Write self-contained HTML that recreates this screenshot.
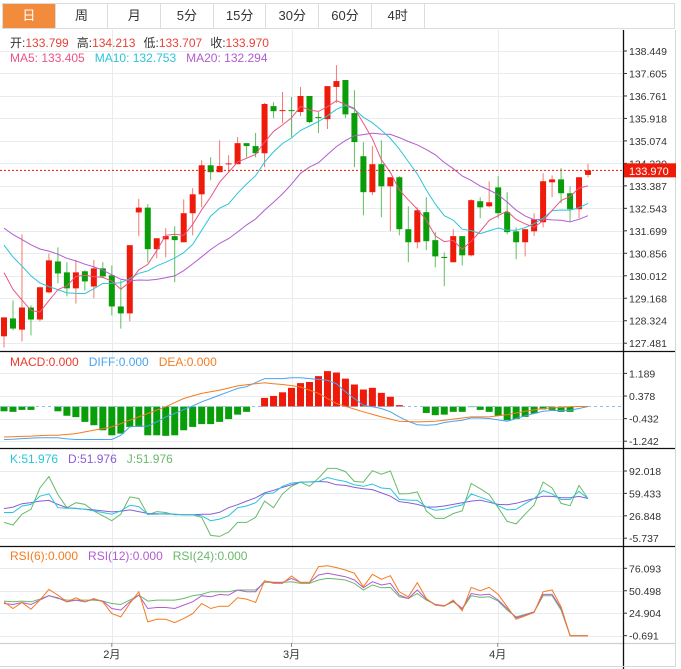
<!DOCTYPE html>
<html><head><meta charset="utf-8">
<style>
html,body{margin:0;padding:0;background:#fff;}
body{width:681px;height:669px;overflow:hidden;font-family:"Liberation Sans","Noto Sans CJK SC",sans-serif;}
#tabs{position:absolute;left:2px;top:3px;width:673px;height:26px;border:1px solid #dcdcdc;box-sizing:border-box;display:flex;}
.tab{width:52.7px;height:24px;line-height:24px;text-align:center;font-size:13px;color:#333;border-right:1px solid #dcdcdc;box-sizing:border-box;}
.tab.active{background:#f28b3c;color:#fff;}
svg{position:absolute;left:0;top:0;}
</style></head><body>
<div id="tabs">
<div class="tab active">日</div>
<div class="tab">周</div>
<div class="tab">月</div>
<div class="tab">5分</div>
<div class="tab">15分</div>
<div class="tab">30分</div>
<div class="tab">60分</div>
<div class="tab">4时</div>
</div>
<svg id="chart" width="681" height="669"></svg>
<script>
const opens=[127.74,128.41,127.99,128.82,128.37,129.39,130.55,130.14,129.54,130.18,129.61,130.29,130.03,128.86,128.6,132.39,132.57,131.01,131.38,131.5,131.27,132.36,133.07,134.16,133.9,134.2,134.2,134.99,134.88,134.61,136.38,136.22,136.23,136.16,136.76,135.97,135.89,137.1,137.36,136.12,134.5,133.15,134.2,133.37,133.71,131.76,131.27,132.4,131.35,130.72,130.52,131.5,130.78,132.81,132.62,133.33,132.4,131.68,131.27,131.68,132.02,133.52,133.63,133.11,132.51,133.799];
const highs=[128.45,129.09,131.57,128.9,129.6,130.85,131.08,130.52,130.6,130.22,130.6,130.52,130.4,129.84,131.16,132.9,132.7,131.42,131.8,131.87,132.88,133.3,134.35,134.46,135.1,134.54,135.22,134.99,135.37,136.5,136.53,136.91,136.72,137.1,136.76,136.16,137.13,137.92,137.36,136.98,135.03,134.88,135.1,133.71,133.75,132.62,132.58,132.96,131.65,130.89,131.76,131.5,132.88,132.96,133.56,133.75,133.15,131.83,131.76,132.36,133.86,133.78,134.05,133.37,133.71,134.213];
const lows=[127.32,127.96,127.55,127.77,128.3,129.35,129.73,129.24,128.97,129.46,129.17,129.92,128.52,128.03,128.3,131.5,130.52,130.67,130.7,129.77,131.27,131.53,132.58,133.6,133.9,133.9,134.2,134.46,134.46,134.09,135.93,135.74,135.22,136.0,135.74,135.37,135.52,136.5,135.93,134.09,132.28,133.04,132.21,131.68,131.53,130.52,131.04,130.97,130.33,129.62,130.52,130.4,130.74,132.17,132.58,132.17,131.57,130.63,130.74,131.5,131.83,132.96,132.73,132.06,132.17,133.707];
const closes=[128.45,128.03,128.82,128.37,129.58,130.59,130.10,129.54,130.14,129.80,130.29,129.99,128.86,128.6,131.16,132.57,131.01,131.42,131.5,131.35,132.36,133.07,134.16,133.90,134.13,134.23,134.99,134.88,134.61,136.46,136.19,136.23,136.20,136.76,135.78,135.93,137.13,137.32,136.07,135.03,133.15,134.2,133.37,133.71,131.76,131.27,132.47,131.31,130.74,130.68,131.5,130.78,132.85,132.58,132.77,132.36,131.65,131.27,131.76,132.13,133.56,133.63,133.11,132.51,133.71,133.970];
const historyCloses=[132.9,132.6,132.3,132.7,132.2,132.4,132.6,132.1,132.3,132.3,132.5,132.3,132.0,132.2,132.0,131.2,130.8,130.3,129.9];
const priceTicks=[138.449,137.605,136.761,135.918,135.074,134.230,133.387,132.543,131.699,130.856,130.012,129.168,128.324,127.481];
const macdBars=[-0.17,-0.19,-0.12,-0.12,0,0,-0.17,-0.33,-0.38,-0.55,-0.67,-0.85,-1.03,-0.97,-0.73,-0.73,-1.03,-1.03,-1.05,-1.03,-0.85,-0.73,-0.63,-0.63,-0.55,-0.45,-0.29,-0.19,0,0.31,0.38,0.51,0.67,0.84,0.88,1.09,1.27,1.22,1.0,0.79,0.61,0.67,0.49,0.35,0.05,0,0,-0.23,-0.31,-0.29,-0.19,-0.19,-0.02,-0.12,-0.19,-0.33,-0.49,-0.45,-0.37,-0.25,-0.1,-0.12,-0.19,-0.19,0,0];
const diffVals=[-1.18,-1.17,-1.15,-1.13,-1.12,-1.12,-1.12,-1.16,-1.18,-1.18,-1.18,-1.18,-1.18,-1.03,-0.73,-0.70,-0.70,-0.55,-0.37,-0.25,-0.11,0.02,0.17,0.29,0.41,0.53,0.65,0.71,0.86,1.0,1.0,1.0,1.03,1.03,1.0,0.97,0.94,0.82,0.53,0.29,0.05,-0.01,-0.07,-0.19,-0.37,-0.53,-0.65,-0.67,-0.65,-0.57,-0.53,-0.49,-0.41,-0.41,-0.43,-0.48,-0.53,-0.43,-0.33,-0.25,-0.17,-0.14,-0.14,-0.13,-0.07,0];
const deaVals=[-1.09,-1.08,-1.07,-1.06,-1.04,-1.03,-1.03,-1.0,-0.97,-0.91,-0.85,-0.79,-0.73,-0.61,-0.49,-0.37,-0.25,-0.13,-0.01,0.14,0.29,0.38,0.47,0.53,0.59,0.66,0.74,0.78,0.82,0.85,0.82,0.79,0.75,0.70,0.59,0.47,0.29,0.11,0.01,-0.09,-0.19,-0.28,-0.37,-0.45,-0.53,-0.54,-0.55,-0.54,-0.53,-0.49,-0.45,-0.41,-0.37,-0.37,-0.37,-0.33,-0.29,-0.23,-0.17,-0.12,-0.07,-0.05,-0.03,-0.01,0,0];
const macdTicks=[1.189,0.378,-0.432,-1.242];
const kVals=[31.6,31.6,41.1,43.5,55.4,58.7,38.7,37.8,37.8,36.3,34.0,31.6,29.2,34.0,42.1,40.2,29.2,29.2,30.2,29.2,28.3,28.3,26.8,19.7,22.1,26.8,38.7,41.1,45.9,58.7,60.1,69.7,74.4,75.8,75.8,76.8,82.5,79.2,76.8,72.0,69.7,73.0,67.3,66.3,50.6,49.7,49.2,39.7,34.9,36.3,39.7,42.5,58.7,53.9,49.2,41.6,35.4,36.3,44.4,52.0,63.5,58.7,50.6,50.6,62.5,52.0];
const dVals=[37.3,39.5,44.4,46.0,48.2,49.2,43.5,38.7,37.5,36.5,35.4,34.0,32.5,33.5,35.4,33.0,30.2,29.8,29.5,29.0,28.3,28.5,29.0,29.2,32.0,38.7,43.0,48.2,53.0,60.1,64.0,68.2,72.0,75.8,76.2,76.8,76.0,72.0,71.1,68.2,66.3,64.9,60.1,55.4,47.3,45.9,43.5,39.7,39.7,41.1,43.5,45.9,48.2,49.7,46.5,43.5,43.0,45.0,48.5,52.0,55.4,55.0,53.0,53.0,55.0,52.0];
const jVals=[17.3,13.5,29.2,36.3,67.3,83.9,57.8,38.7,45.9,43.5,34.0,26.8,19.7,29.2,54.4,52.0,28.3,33.0,31.6,28.3,28.3,28.3,24.5,-1.7,-3.1,3.1,17.3,17.3,24.5,48.2,38.7,58.7,69.7,75.8,69.7,81.6,95.8,95.8,91.1,76.8,75.8,92.5,87.3,92.0,58.7,59.2,61.6,34.0,23.0,23.0,30.2,34.0,73.9,66.3,57.8,38.7,18.7,15.0,29.2,42.5,75.8,67.3,44.9,41.6,71.1,52.0];
const kdjTicks=[92.018,59.433,26.848,-5.737];
const rsi6=[37.9,30.3,37.1,29.5,39.8,52.0,45.5,37.9,42.5,37.9,41.7,37.9,24.5,20.7,36.0,49.4,15.0,18.0,18.0,14.2,18.8,24.5,36.0,30.3,32.9,32.9,42.5,41.0,37.1,62.0,58.9,58.9,67.3,60.0,60.0,78.0,79.1,76.9,74.2,70.4,55.1,69.2,63.5,67.7,49.3,43.6,59.7,41.7,34.1,32.9,39.8,27.6,54.3,50.5,54.3,46.3,32.2,18.0,21.8,25.7,49.3,51.3,32.2,-0.7,-0.7,-0.7];
const rsi12=[36.0,34.8,37.1,34.8,39.8,44.8,42.5,37.9,39.8,37.9,41.0,38.7,30.3,28.4,37.9,45.5,30.3,31.4,31.4,30.3,34.1,37.9,44.8,43.6,46.3,45.5,51.3,49.4,49.4,61.6,60.0,60.0,64.6,60.0,60.0,68.5,70.4,68.5,66.5,62.7,53.9,60.8,57.0,58.9,45.5,41.7,51.3,41.0,34.8,33.3,38.7,30.3,47.4,45.5,46.7,39.8,30.3,19.6,22.6,26.4,46.3,46.3,30.3,-0.7,-0.7,-0.7];
const rsi24=[38.7,37.9,38.7,37.9,41.0,44.8,41.7,39.8,39.8,39.8,39.8,38.7,36.0,34.8,39.8,45.5,38.7,39.8,39.8,39.8,41.7,44.8,46.3,49.4,49.4,49.4,51.3,51.3,51.3,60.0,60.0,60.0,60.8,58.9,58.9,62.7,64.6,63.9,62.7,58.9,51.3,57.0,53.9,54.3,43.6,41.7,47.4,39.8,34.8,33.3,37.9,29.5,44.8,42.9,43.6,38.7,28.4,20.7,23.4,26.4,44.8,44.8,28.4,-0.7,-0.7,-0.7];
const rsiTicks=[76.093,50.498,24.904,-0.691];
const monthLabels=["2月","3月","4月"];
const monthIndex=[12,32,54.95];

const NS="http://www.w3.org/2000/svg";
const svg=document.getElementById('chart');
function el(tag,attrs,parent){const e=document.createElementNS(NS,tag);for(const k in attrs)e.setAttribute(k,attrs[k]);(parent||svg).appendChild(e);return e;}
const RED="#ee1a0a",GREEN="#0a9d0a";
const X0=4,STEP=8.985,PW=623;
const xOf=i=>X0+STEP*i;
const yPrice=p=>51+(priceTicks[0]-p)*(292.2/(priceTicks[0]-priceTicks[13]));
const yMacd=v=>396-(v-0.378)*(22.6/0.81);
const yKdj=v=>471-(v-92.018)*(22.4/32.585);
const yRsi=v=>568.3-(v-76.093)*(22.45/25.595);
function hgrid(y){const l=el('line',{x1:0,x2:PW,y1:y,y2:y,stroke:"#e6ecf0","stroke-width":1});}
priceTicks.forEach(t=>hgrid(Math.round(yPrice(t))+0.5));
macdTicks.forEach(t=>hgrid(Math.round(yMacd(t))+0.5));
kdjTicks.forEach(t=>hgrid(Math.round(yKdj(t))+0.5));
rsiTicks.forEach(t=>hgrid(Math.round(yRsi(t))+0.5));
monthIndex.forEach(m=>{const x=Math.round(xOf(m))+0.5;const l=el('line',{x1:x,x2:x,y1:30,y2:643,stroke:"#e6ecf0"});});
[[351.5,"#111"],[448.5,"#111"],[546.5,"#111"],[643.5,"#cfcfcf"]].forEach(([y,c])=>{const l=el('line',{x1:0,x2:675,y1:y,y2:y,stroke:c,"stroke-width":1.3});});
el('line',{x1:623.5,x2:623.5,y1:30,y2:669,stroke:"#111","stroke-width":1.3});
el('line',{x1:675.5,x2:675.5,y1:30,y2:666,stroke:"#d8d8d8"});
el('line',{x1:0,x2:676,y1:666.5,y2:666.5,stroke:"#d8d8d8"});
function axisLabels(ticks,fn,name){ticks.forEach(t=>{const y=fn(t);el('line',{x1:623,x2:627,y1:y,y2:y,stroke:"#333"});const tx=el('text',{x:629,y:y+4,"font-size":"10.5",fill:"#333"});tx.textContent=t.toFixed(3);});}
axisLabels(priceTicks,yPrice,'price-axis-label');
axisLabels(macdTicks,yMacd,'macd-axis-label');
axisLabels(kdjTicks,yKdj,'kdj-axis-label');
axisLabels(rsiTicks,yRsi,'rsi-axis-label');
monthLabels.forEach((m,i)=>{const x=xOf(monthIndex[i]);el('line',{x1:x,x2:x,y1:643,y2:647,stroke:"#888"});const t=el('text',{x:x,y:658,"font-size":"11",fill:"#333","text-anchor":"middle"});t.textContent=m;});
const cg=el('g',{});


closes.forEach((c,i)=>{const o=opens[i],x=xOf(i),up=c>=o,col=up?RED:GREEN;
 el('line',{x1:x,x2:x,y1:yPrice(highs[i]),y2:yPrice(lows[i]),stroke:up?"#f37a70":"#5fbf5f","stroke-width":1},cg);
 const top=yPrice(Math.max(o,c)),bot=yPrice(Math.min(o,c));
 const r=el('rect',{x:x-3,y:top,width:6,height:Math.max(1,bot-top),fill:col},cg);
 
 
});
const all=historyCloses.concat(closes);
function ma(n){return closes.map((_,i)=>{const j=i+historyCloses.length;let s=0;for(let k=j-n+1;k<=j;k++)s+=all[k];return s/n;});}
function poly(vals,fn,color,name,w){const pts=vals.map((v,i)=>xOf(i).toFixed(1)+","+fn(v).toFixed(1)).join(" ");const p=el('polyline',{points:pts,fill:"none",stroke:color,"stroke-width":w||1});return p;}
poly(ma(20),yPrice,"#b25ccf","ma20-line");
poly(ma(10),yPrice,"#2ec4d8","ma10-line");
poly(ma(5),yPrice,"#ec5582","ma5-line");
const ly=yPrice(closes[closes.length-1]);
el('line',{x1:0,x2:623,y1:ly,y2:ly,stroke:"#ee1a0a","stroke-dasharray":"2,2"});
const tag=el('rect',{x:624,y:ly-7,width:52,height:14,fill:"#ee1a0a"});


const tt=el('text',{x:629,y:ly+4.5,"font-size":"11",fill:"#fff"});tt.textContent=closes[closes.length-1].toFixed(3);
macdBars.forEach((v,i)=>{const x=xOf(i);if(Math.abs(v)<0.02)return;const y1=yMacd(v),y0=yMacd(0);const r=el('rect',{x:x-3.5,y:Math.min(y0,y1),width:7,height:Math.abs(y1-y0),fill:v>0?RED:GREEN});});
el('line',{x1:0,x2:623,y1:yMacd(0),y2:yMacd(0),stroke:"#7fb7e8","stroke-dasharray":"3,3","stroke-width":0.8});
poly(diffVals,yMacd,"#4aa3f0","diff-line");
poly(deaVals,yMacd,"#f57b20","dea-line");
poly(jVals,yKdj,"#6ab96a","kdj-j-line");
poly(dVals,yKdj,"#8a5cd6","kdj-d-line");
poly(kVals,yKdj,"#29c5dc","kdj-k-line");
poly(rsi24,yRsi,"#6ab96a","rsi24-line");
poly(rsi12,yRsi,"#b25ccf","rsi12-line");
poly(rsi6,yRsi,"#f57b20","rsi6-line");
function legend(y,items,name){const t=el('text',{x:10,y:y,"font-size":"12"});items.forEach(([s,c,dx])=>{const sp=el('tspan',{fill:c},t);if(dx)sp.setAttribute('dx',dx);sp.textContent=s;});}
legend(47,[["开:","#333"],["133.799","#e8433a"],["高:","#333",8],["134.213","#e8433a"],["低:","#333",8],["133.707","#e8433a"],["收:","#333",8],["133.970","#e8433a"]],'ohlc-legend');
legend(62,[["MA5: 133.405","#ec5582"],["MA10: 132.753","#2ec4d8",10],["MA20: 132.294","#b25ccf",10]],'ma-legend');
legend(366,[["MACD:0.000","#ee3a2a"],["DIFF:0.000","#4aa3f0",10],["DEA:0.000","#f57b20",10]],'macd-legend');
legend(463,[["K:51.976","#29c5dc"],["D:51.976","#8a5cd6",10],["J:51.976","#6ab96a",10]],'kdj-legend');
legend(560,[["RSI(6):0.000","#f57b20"],["RSI(12):0.000","#b25ccf",10],["RSI(24):0.000","#6ab96a",10]],'rsi-legend');
</script>
</body></html>
